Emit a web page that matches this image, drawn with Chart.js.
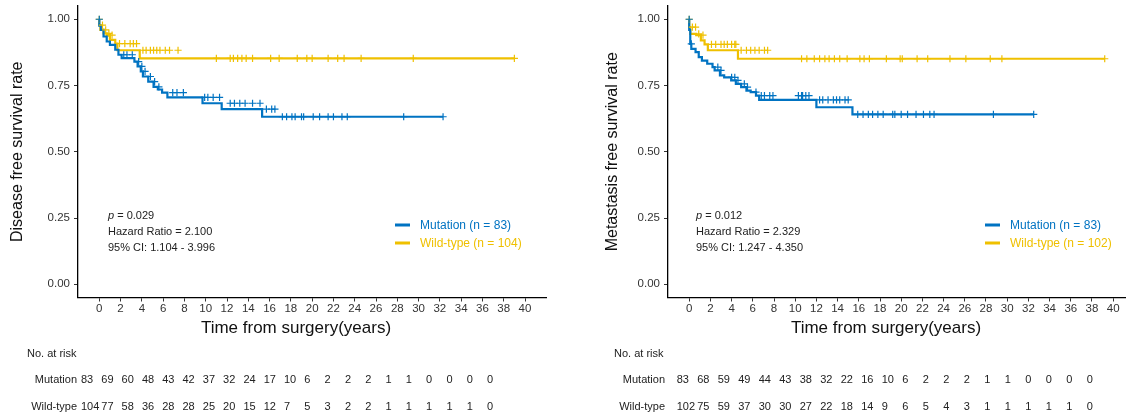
<!DOCTYPE html>
<html>
<head>
<meta charset="utf-8">
<script src="https://cdn.jsdelivr.net/npm/chart.js@4.4.1/dist/chart.umd.min.js"></script>
<style>
  html, body { margin: 0; padding: 0; background: #fff; overflow: hidden; width: 1126px; height: 418px; }
  .panel { position: absolute; top: 0; }
</style>
</head>
<body>
<div class="panel" style="left:0"><canvas id="dfs" width="560" height="418"></canvas></div>
<div class="panel" style="left:590px"><canvas id="mfs" width="560" height="418"></canvas></div>
<script>
// ---- ticks ----
const timeTicks = [0, 2, 4, 6, 8, 10, 12, 14, 16, 18, 20, 22, 24, 26, 28, 30, 32, 34, 36, 38, 40];
const survTicks = [0, 0.25, 0.5, 0.75, 1];

// ---- disease free survival (left) ----
const dfsMutTime = [0, 0.15, 0.4, 0.7, 1.0, 1.5, 1.8, 2.1, 3.3, 3.6, 3.9, 4.1, 4.6, 5.1, 5.5, 5.9, 6.4, 9.7, 11.5, 15.3, 16.8, 32.3];
const dfsMutSurv = [1, 0.976, 0.96, 0.935, 0.916, 0.903, 0.885, 0.866, 0.853, 0.84, 0.822, 0.803, 0.784, 0.765, 0.745, 0.735, 0.723, 0.705, 0.683, 0.661, 0.632, 0.632];
const dfsMutCens = [0, 2.3, 2.6, 3.1, 3.7, 4.0, 4.3, 4.8, 5.2, 5.6, 6.9, 7.3, 7.9, 9.9, 10.2, 10.7, 11.3, 12.3, 12.7, 13.2, 13.7, 14.4, 15.1, 15.7, 16.2, 16.5, 17.2, 17.6, 18.1, 18.4, 19.0, 19.2, 20.1, 20.7, 21.5, 22.0, 22.8, 23.3, 28.6, 32.3];

const dfsWtTime = [0, 0.1, 0.4, 0.7, 1.0, 1.5, 1.7, 3.8, 10.1, 39.0];
const dfsWtSurv = [1, 0.978, 0.96, 0.947, 0.94, 0.922, 0.908, 0.883, 0.852, 0.852];
const dfsWtCens = [0, 0.3, 0.6, 0.9, 1.2, 1.9, 2.4, 2.9, 3.2, 3.5, 4.1, 4.4, 4.8, 5.1, 5.4, 5.7, 6.2, 6.6, 7.4, 11.0, 12.3, 12.6, 13.0, 13.4, 13.8, 14.4, 16.1, 16.9, 18.6, 19.5, 20.0, 21.5, 22.4, 23.0, 24.6, 29.5, 39.0];

const dfsRiskMut = [83, 69, 60, 48, 43, 42, 37, 32, 24, 17, 10, 6, 2, 2, 2, 1, 1, 0, 0, 0, 0];
const dfsRiskWt = [104, 77, 58, 36, 28, 28, 25, 20, 15, 12, 7, 5, 3, 2, 2, 1, 1, 1, 1, 1, 0];

// ---- metastasis free survival (right) ----
const mfsMutTime = [0, 0.1, 0.2, 0.6, 0.9, 1.2, 1.7, 2.2, 2.4, 2.9, 3.3, 3.96, 4.4, 4.9, 5.4, 5.8, 6.3, 6.6, 12.0, 15.4, 15.7, 32.5];
const mfsMutSurv = [1, 0.96, 0.907, 0.888, 0.876, 0.857, 0.844, 0.832, 0.819, 0.807, 0.788, 0.781, 0.769, 0.756, 0.744, 0.731, 0.725, 0.712, 0.696, 0.668, 0.641, 0.641];
const mfsMutCens = [0, 0.2, 2.7, 3.0, 4.0, 4.3, 4.6, 5.2, 5.5, 6.3, 6.8, 7.1, 7.6, 7.9, 10.3, 10.6, 10.7, 11.0, 11.3, 12.3, 12.6, 13.1, 13.6, 13.9, 14.2, 14.7, 15.0, 15.9, 16.4, 16.9, 17.3, 17.8, 18.3, 19.2, 19.4, 20.0, 20.6, 21.4, 22.1, 22.7, 23.1, 28.7, 32.5];

const mfsWtTime = [0, 0.1, 0.66, 1.1, 1.45, 1.76, 4.6, 7.7, 39.2];
const mfsWtSurv = [1, 0.97, 0.945, 0.94, 0.92, 0.905, 0.883, 0.851, 0.851];
const mfsWtCens = [0, 0.3, 0.6, 0.9, 1.3, 2.1, 2.5, 3.0, 3.3, 3.6, 4.0, 4.3, 4.4, 4.9, 5.4, 5.8, 6.2, 6.6, 7.1, 7.4, 10.6, 11.1, 11.8, 12.3, 12.8, 13.2, 13.7, 14.2, 14.9, 16.1, 16.5, 17.0, 18.6, 19.9, 20.1, 21.5, 22.5, 24.6, 26.1, 28.4, 29.5, 39.2];

const mfsRiskMut = [83, 68, 59, 49, 44, 43, 38, 32, 22, 16, 10, 6, 2, 2, 2, 1, 1, 0, 0, 0, 0];
const mfsRiskWt = [102, 75, 59, 37, 30, 30, 27, 22, 18, 14, 9, 6, 5, 4, 3, 1, 1, 1, 1, 1, 0];

const BLUE = '#0073C2';
const YELLOW = '#EFC000';
const FONT = '"Liberation Sans", Arial, Helvetica, sans-serif';

// KM curve points from step times
function stepPoints(times, surv) {
  return times.map((t, i) => ({ x: t, y: surv[i] }));
}
// survival value at time t (for censor marks)
function survAt(times, surv, t) {
  let s = surv[0];
  for (let i = 0; i < times.length; i++) {
    if (times[i] <= t) s = surv[i];
  }
  return s;
}
function censorPoints(cens, times, surv) {
  return cens.map(t => ({ x: t, y: survAt(times, surv, t) }));
}

// texte, légende et tableau "No. at risk"
const overlay = {
  id: 'overlay',
  afterDraw(chart, args, o) {
    const ctx = chart.ctx;
    ctx.save();

    // titre axe x
    ctx.font = '17px ' + FONT;
    ctx.fillStyle = '#111';
    ctx.textAlign = 'center';
    ctx.textBaseline = 'middle';
    ctx.fillText('Time from surgery(years)', 296, 328);

    // p / HR / CI
    ctx.textAlign = 'left';
    ctx.fillStyle = '#222';
    ctx.font = 'italic 11px ' + FONT;
    ctx.fillText('p', o.noteX, 216);
    const pw = ctx.measureText('p').width;
    ctx.font = '11px ' + FONT;
    ctx.fillText(' = ' + o.pValue, o.noteX + pw, 216);
    ctx.fillText('Hazard Ratio = ' + o.hr, o.noteX, 232);
    ctx.fillText('95% CI: ' + o.ci, o.noteX, 248);

    // légende
    const leg = [[BLUE, o.labels[0], 225], [YELLOW, o.labels[1], 243]];
    ctx.font = '12px ' + FONT;
    leg.forEach(([c, txt, y]) => {
      ctx.strokeStyle = c;
      ctx.lineWidth = 3;
      ctx.beginPath();
      ctx.moveTo(395, y);
      ctx.lineTo(410, y);
      ctx.stroke();
      ctx.fillStyle = c;
      ctx.fillText(txt, 420, y + 1);
    });

    // No. at risk
    ctx.font = '11px ' + FONT;
    ctx.fillStyle = '#222';
    ctx.fillText('No. at risk', o.riskTitleX, 354);
    ctx.textAlign = 'right';
    ctx.fillText('Mutation', o.rowLabelX, 380);
    ctx.fillText('Wild-type', o.rowLabelX, 407);
    ctx.textAlign = 'left';
    o.riskMut.forEach((v, i) => ctx.fillText(String(v), o.riskX0 + i * o.riskStep, 380));
    o.riskWt.forEach((v, i) => ctx.fillText(String(v), o.riskX0 + i * o.riskStep, 407));

    ctx.restore();
  }
};

function makeKM(id, cfg) {
  const ctx = document.getElementById(id).getContext('2d');
  return new Chart(ctx, {
    type: 'scatter',
    data: {
      datasets: [
        {
          data: censorPoints(cfg.mutCens, cfg.mutTime, cfg.mutSurv),
          pointStyle: 'cross', pointRadius: 3.6, pointBorderWidth: 1.2,
          borderColor: BLUE, backgroundColor: BLUE, showLine: false
        },
        {
          data: censorPoints(cfg.wtCens, cfg.wtTime, cfg.wtSurv),
          pointStyle: 'cross', pointRadius: 3.6, pointBorderWidth: 1.2,
          borderColor: YELLOW, backgroundColor: YELLOW, showLine: false
        },
        {
          data: stepPoints(cfg.mutTime, cfg.mutSurv),
          showLine: true, stepped: 'after', pointRadius: 0,
          borderColor: BLUE, borderWidth: 2.2
        },
        {
          data: stepPoints(cfg.wtTime, cfg.wtSurv),
          showLine: true, stepped: 'after', pointRadius: 0,
          borderColor: YELLOW, borderWidth: 2.2
        }
      ]
    },
    options: {
      responsive: false,
      animation: false,
      layout: { padding: { left: 0, top: 6, right: cfg.padRight, bottom: 80.5 } },
      plugins: {
        legend: { display: false },
        tooltip: { enabled: false },
        overlay: cfg.overlay
      },
      scales: {
        x: {
          type: 'linear',
          min: -2, max: 42,
          afterBuildTicks: s => { s.ticks = timeTicks.map(v => ({ value: v })); },
          afterFit: s => { s.height = 40; s.paddingLeft = 0; s.paddingRight = 0; },
          grid: { drawOnChartArea: false, tickLength: 4, color: '#333', tickWidth: 1 },
          border: { color: '#000', width: 1.3 },
          ticks: { color: '#333', padding: 0, maxRotation: 0, autoSkip: false, font: { family: FONT, size: 11.5 } }
        },
        y: {
          min: -0.05, max: 1.05,
          afterBuildTicks: s => { s.ticks = survTicks.map(v => ({ value: v })); },
          afterFit: s => { s.width = 78; s.paddingTop = 0; s.paddingBottom = 0; },
          grid: { drawOnChartArea: false, tickLength: 4, color: '#333', tickWidth: 1 },
          border: { color: '#000', width: 1.3 },
          ticks: { color: '#333', padding: 4, font: { family: FONT, size: 11.5 }, callback: v => Number(v).toFixed(2) },
          title: {
            display: true, text: cfg.yTitle, color: '#111',
            font: { family: FONT, size: 16 }, padding: { top: cfg.yTitlePad, bottom: 0 }
          }
        }
      }
    },
    plugins: [overlay]
  });
}

makeKM('dfs', {
  mutTime: dfsMutTime, mutSurv: dfsMutSurv, mutCens: dfsMutCens,
  wtTime: dfsWtTime, wtSurv: dfsWtSurv, wtCens: dfsWtCens,
  yTitle: 'Disease free survival rate', yTitlePad: 8.4, padRight: 13.7,
  overlay: {
    noteX: 108, pValue: '0.029', hr: '2.100', ci: '1.104 - 3.996',
    labels: ['Mutation (n = 83)', 'Wild-type (n = 104)'],
    riskMut: dfsRiskMut, riskWt: dfsRiskWt,
    riskTitleX: 27, rowLabelX: 77, riskX0: 81, riskStep: 20.3
  }
});

makeKM('mfs', {
  mutTime: mfsMutTime, mutSurv: mfsMutSurv, mutCens: mfsMutCens,
  wtTime: mfsWtTime, wtSurv: mfsWtSurv, wtCens: mfsWtCens,
  yTitle: 'Metastasis free survival rate', yTitlePad: 13.4, padRight: 15.6,
  overlay: {
    noteX: 106, pValue: '0.012', hr: '2.329', ci: '1.247 - 4.350',
    labels: ['Mutation (n = 83)', 'Wild-type (n = 102)'],
    riskMut: mfsRiskMut, riskWt: mfsRiskWt,
    riskTitleX: 24, rowLabelX: 75, riskX0: 86.7, riskStep: 20.5
  }
});
</script>
</body>
</html>
